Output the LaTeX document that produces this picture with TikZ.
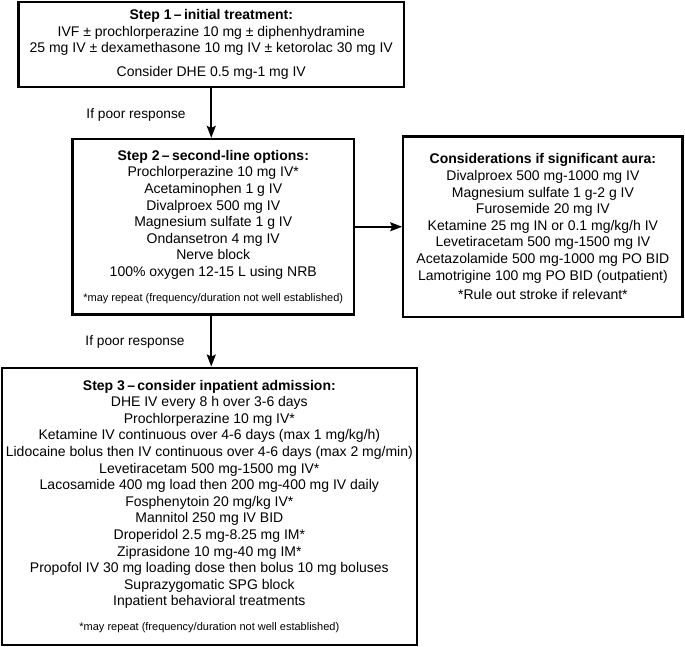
\documentclass[tikz,border=0pt]{standalone}
\usepackage{fontspec}
\setmainfont{Liberation Sans}
\usetikzlibrary{arrows.meta}
\newcommand{\ftn}{\fontsize{11}{16.6}\selectfont}
\begin{document}
\begin{tikzpicture}[x=1pt,y=-1pt,
  box/.style={draw, line width=2.3pt, inner sep=0pt, align=center,
    font=\fontsize{14}{16.6}\selectfont},
  lbl/.style={font=\fontsize{13.7}{16.6}\selectfont, inner sep=0pt},
  arr/.style={line width=1.8pt, -{Stealth[length=12pt,width=9pt,inset=2pt]}}]
\useasboundingbox (0,0) rectangle (685,647);

\node[box, minimum width=385.5pt, minimum height=84.5pt] (b1) at (211.25,44.5)
{\textbf{Step 1\,–\,initial treatment:}\\
IVF ± prochlorperazine 10 mg ± diphenhydramine\\
25 mg IV ± dexamethasone 10 mg IV ± ketorolac 30 mg IV\\[7.5pt]
Consider DHE 0.5 mg-1 mg IV};

\node[box, minimum width=281.5pt, minimum height=175.5pt] (b2) at (213.25,226.75)
{\textbf{Step 2\,–\,second-line options:}\\
Prochlorperazine 10 mg IV*\\
Acetaminophen 1 g IV\\
Divalproex 500 mg IV\\
Magnesium sulfate 1 g IV\\
Ondansetron 4 mg IV\\
Nerve block\\
100\% oxygen 12-15 L using NRB\\[8pt]
\ftn *may repeat (frequency/duration not well established)};

\node[box, minimum width=279.2pt, minimum height=180.5pt] (b3) at (542.9,226.75)
{\textbf{Considerations if significant aura:}\\
Divalproex 500 mg-1000 mg IV\\
Magnesium sulfate 1 g-2 g IV\\
Furosemide 20 mg IV\\
Ketamine 25 mg IN or 0.1 mg/kg/h IV\\
Levetiracetam 500 mg-1500 mg IV\\
Acetazolamide 500 mg-1000 mg PO BID\\
Lamotrigine 100 mg PO BID (outpatient)\\[3pt]
*Rule out stroke if relevant*};

\node[box, minimum width=415.3pt, minimum height=277.3pt] (b4) at (209.35,506.35)
{\textbf{Step 3\,–\,consider inpatient admission:}\\
DHE IV every 8 h over 3-6 days\\
Prochlorperazine 10 mg IV*\\
Ketamine IV continuous over 4-6 days (max 1 mg/kg/h)\\
Lidocaine bolus then IV continuous over 4-6 days (max 2 mg/min)\\
Levetiracetam 500 mg-1500 mg IV*\\
Lacosamide 400 mg load then 200 mg-400 mg IV daily\\
Fosphenytoin 20 mg/kg IV*\\
Mannitol 250 mg IV BID\\
Droperidol 2.5 mg-8.25 mg IM*\\
Ziprasidone 10 mg-40 mg IM*\\
Propofol IV 30 mg loading dose then bolus 10 mg boluses\\
Suprazygomatic SPG block\\
Inpatient behavioral treatments\\[8pt]
\ftn *may repeat (frequency/duration not well established)};

\draw[arr] (b1.south) -- (b1.south |- b2.north);
\draw[arr] (b1.south |- b2.south) -- (b1.south |- b4.north);
\draw[arr] (b2.east) -- (b2.east -| b3.west);

\node[lbl] (l1) at (136,115) {If poor response};
\node[lbl] (l2) at (135,342) {If poor response};
\end{tikzpicture}
\end{document}
